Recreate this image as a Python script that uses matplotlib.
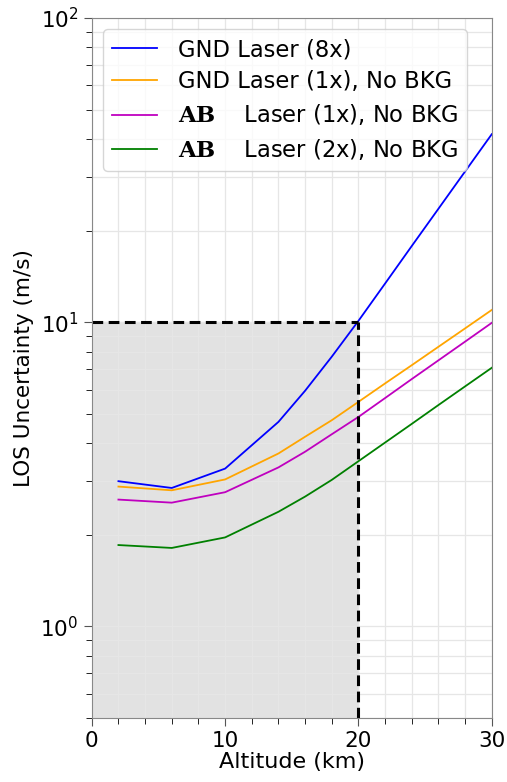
import matplotlib
matplotlib.use('Agg')
import matplotlib.pyplot as plt
from matplotlib.ticker import MultipleLocator

plt.rcParams['mathtext.fontset'] = 'custom'
plt.rcParams['mathtext.rm'] = 'DejaVu Serif'
plt.rcParams['mathtext.bf'] = 'DejaVu Serif:bold'

# Altitude points (km)
altitude = [2, 6, 10, 14, 16, 18, 20, 22, 24, 26, 28, 30]

# LOS uncertainty (m/s)
gnd_8x = [3.0, 2.85, 3.3, 4.7, 5.95, 7.7, 10.1, 13.4, 17.8, 23.6, 31.3, 41.5]
gnd_1x_nobkg = [2.88, 2.8, 3.04, 3.7, 4.2, 4.76, 5.47, 6.29, 7.22, 8.3, 9.54, 10.97]
ab_1x_nobkg = [2.61, 2.55, 2.76, 3.33, 3.75, 4.28, 4.88, 5.63, 6.5, 7.49, 8.63, 9.95]
ab_2x_nobkg = [1.85, 1.81, 1.96, 2.38, 2.67, 3.03, 3.49, 4.02, 4.63, 5.34, 6.15, 7.08]

labels = ['GND Laser (8x)', 'GND Laser (1x), No BKG',
          r'$\mathbf{AB}$    Laser (1x), No BKG',
          r'$\mathbf{AB}$    Laser (2x), No BKG']

# requirement box
alt_limit = 20
los_limit = 10
y_min = 0.5

fig = plt.figure(figsize=(5.07, 7.82), dpi=100)
ax = fig.add_axes([0.181, 0.082, 0.789, 0.895])

ax.fill_between([0, alt_limit], y_min, los_limit, color='#e2e2e2', zorder=0)

ax.plot(altitude, gnd_8x, color='blue', lw=1.3, label=labels[0])
ax.plot(altitude, gnd_1x_nobkg, color='orange', lw=1.3, label=labels[1])
ax.plot(altitude, ab_1x_nobkg, color='m', lw=1.3, label=labels[2])
ax.plot(altitude, ab_2x_nobkg, color='g', lw=1.3, label=labels[3])

ax.plot([0, alt_limit], [los_limit, los_limit], 'k--', lw=2.2, dashes=(3.5, 1.8))
ax.plot([alt_limit, alt_limit], [y_min, los_limit], 'k--', lw=2.2, dashes=(3.5, 1.8))

ax.set_yscale('log')
ax.set_xlim(0, 30)
ax.set_ylim(y_min, 100)
ax.xaxis.set_major_locator(MultipleLocator(10))
ax.xaxis.set_minor_locator(MultipleLocator(2))
ax.grid(True, which='both', color='#e6e6e6', lw=0.9)

ax.tick_params(labelsize=15.5, color='#555555')
ax.tick_params(which='major', length=6)
ax.tick_params(which='minor', length=4)
for s in ax.spines.values():
    s.set_color('#888888')

ax.set_xlabel('Altitude (km)', fontsize=16, labelpad=1)
ax.set_ylabel('LOS Uncertainty (m/s)', fontsize=15.5, labelpad=5)

leg = ax.legend(loc='upper left', fontsize=16.3, handlelength=2.0,
                borderaxespad=0.5, labelspacing=0.4, handletextpad=0.9)

plt.savefig('out.png', dpi=100)
